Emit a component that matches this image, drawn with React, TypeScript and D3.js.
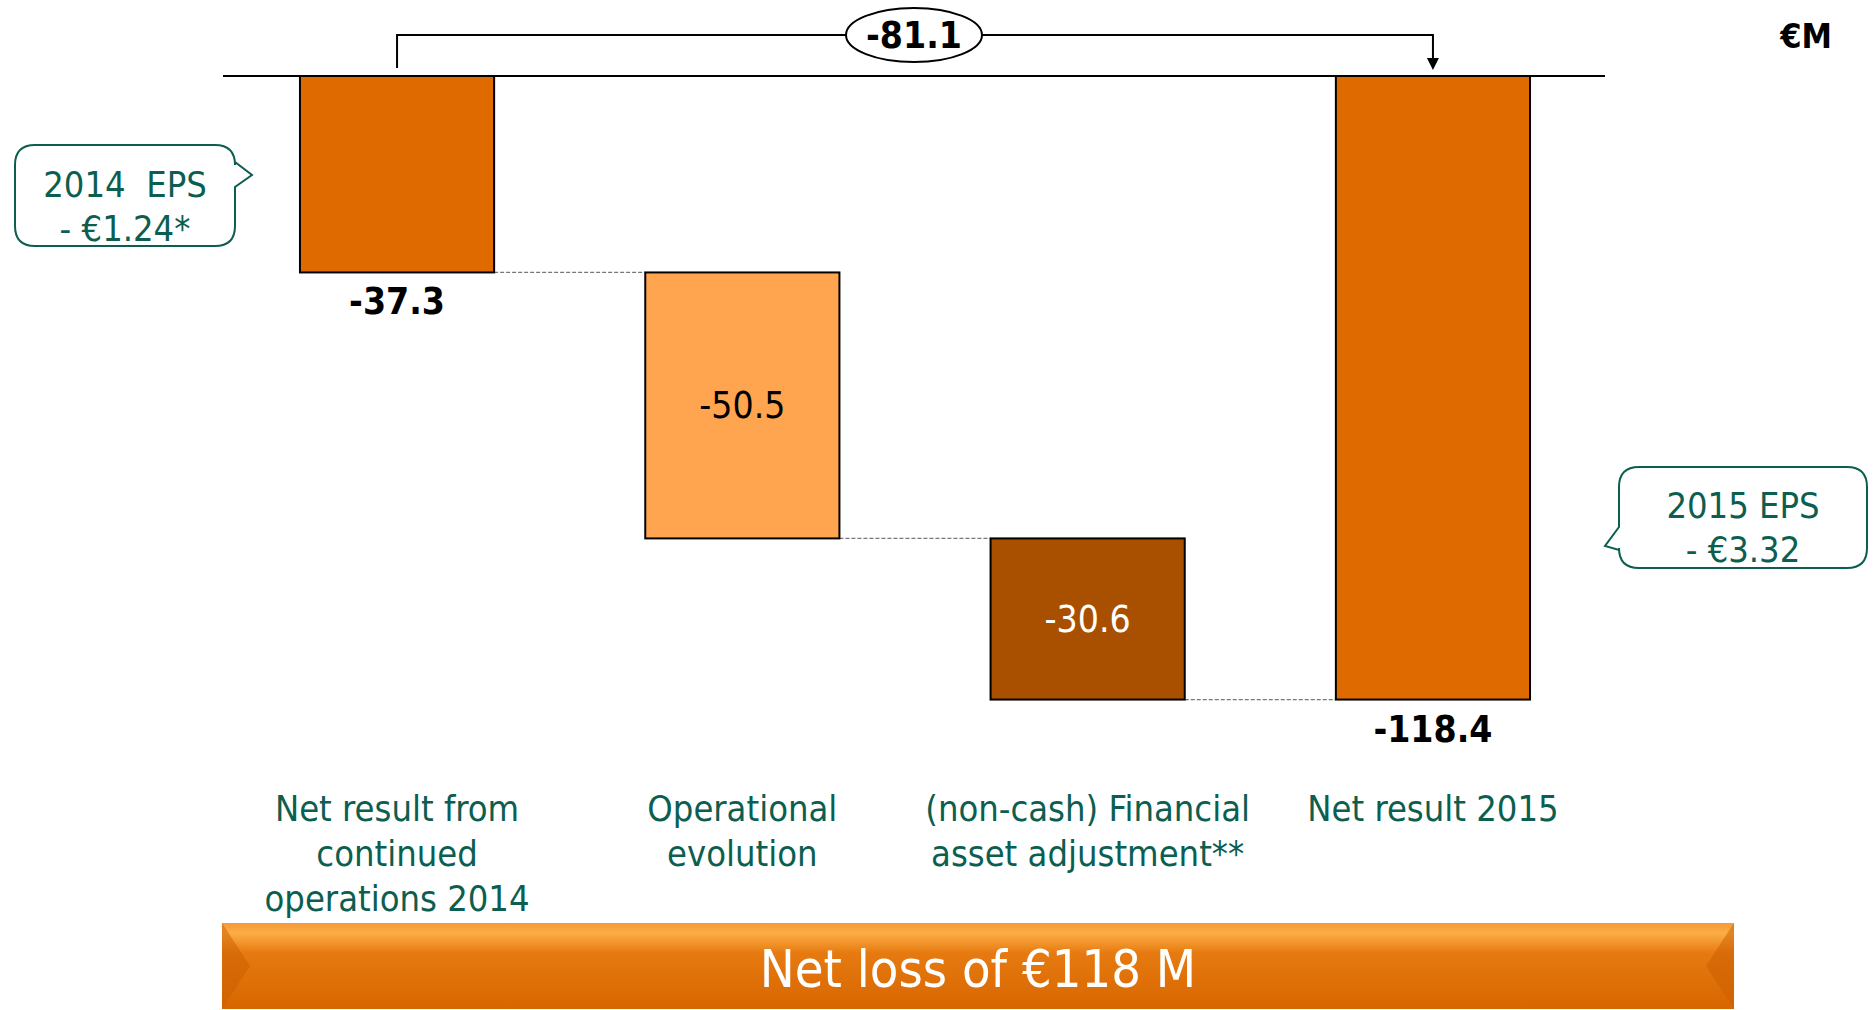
import * as d3 from 'd3';

// data
const steps = ['start', 'ops', 'fin', 'end'];
const stepLabels = [
	['Net result from', 'continued', 'operations 2014'],
	['Operational', 'evolution'],
	['(non-cash) Financial', 'asset adjustment**'],
	['Net result 2015'],
];
const stepValues = [-37.3, -50.5, -30.6, -118.4];
const stepKinds = ['total', 'delta', 'delta', 'total'];
const stepColors = ['#de6a00', '#ffa550', '#a85000', '#de6a00'];
const epsLeft = ['2014  EPS', '- €1.24*'];
const epsRight = ['2015 EPS', '- €3.32'];
const bannerText = 'Net loss of €118 M';

const FONT = "'DejaVu Sans Condensed', 'DejaVu Sans', sans-serif";
const GREEN = '#0b5e50';

function calloutPath(x0: number, y0: number, x1: number, y1: number, r: number, side: 'left' | 'right', a: number, tip: [number, number], b: number) {
	// rounded box with a small pointer on one side
	if (side === 'right') {
		return `M${x0 + r},${y0} H${x1 - r} Q${x1},${y0} ${x1},${y0 + r} V${a} L${tip[0]},${tip[1]} L${x1},${b} V${y1 - r} Q${x1},${y1} ${x1 - r},${y1} H${x0 + r} Q${x0},${y1} ${x0},${y1 - r} V${y0 + r} Q${x0},${y0} ${x0 + r},${y0} Z`;
	}
	return `M${x0 + r},${y0} H${x1 - r} Q${x1},${y0} ${x1},${y0 + r} V${y1 - r} Q${x1},${y1} ${x1 - r},${y1} H${x0 + r} Q${x0},${y1} ${x0},${y1 - r} V${b} L${tip[0]},${tip[1]} L${x0},${a} V${y0 + r} Q${x0},${y0} ${x0 + r},${y0} Z`;
}

export default function App() {
	const x = d3.scaleBand().domain(steps).range([224, 1606]).paddingInner(0.4377).paddingOuter(0.22);
	const y = d3.scaleLinear().domain([0, -120]).range([76, 708]);
	const bw = x.bandwidth();

	// running totals for the waterfall
	let run = 0;
	const bars = steps.map((s, i) => {
		const v = stepValues[i];
		let top: number, bottom: number;
		if (stepKinds[i] === 'total') {
			top = 0; bottom = v; run = v;
		} else {
			top = run; bottom = run + v; run = bottom;
		}
		return {s, v, top, bottom, color: stepColors[i], kind: stepKinds[i], i};
	});
	const change = stepValues[3] - stepValues[0];
	const cx = (s: string) => (x(s) as number) + bw / 2;
	const bridgeY = 35;

	return (
		<svg width={1873} height={1010} style={{position: 'absolute', left: 0, top: 0, fontFamily: FONT}}>
			<defs>
				<linearGradient id="banner" x1="0" y1="0" x2="0" y2="1">
					<stop offset="0%" stopColor="#f59a3a" />
					<stop offset="12%" stopColor="#fbad45" />
					<stop offset="35%" stopColor="#e67a10" />
					<stop offset="100%" stopColor="#d86600" />
				</linearGradient>
			</defs>

			{/* zero line */}
			<line x1={223} x2={1605} y1={y(0)} y2={y(0)} stroke="#000" strokeWidth={2} />

			{/* dashed connectors */}
			{bars.slice(0, -1).map((b, i) => (
				<line key={'c' + i} x1={(x(b.s) as number) + bw} x2={x(steps[i + 1]) as number}
					y1={y(b.bottom)} y2={y(b.bottom)} stroke="#777" strokeWidth={1.2} strokeDasharray="4 2" />
			))}

			{/* bars */}
			{bars.map((b) => (
				<rect key={b.s} x={x(b.s)} y={y(b.top)} width={bw} height={y(b.bottom) - y(b.top)}
					fill={b.color} stroke="#000" strokeWidth={2} />
			))}

			{/* value labels */}
			{bars.map((b) => b.kind === 'total' ? (
				<text key={'v' + b.s} x={cx(b.s)} y={y(b.bottom) + 42} textAnchor="middle" fontWeight="bold"
					fontSize={37} fill="#000">{b.v.toFixed(1)}</text>
			) : (
				<text key={'v' + b.s} x={cx(b.s)} y={(y(b.top) + y(b.bottom)) / 2 + 13} textAnchor="middle"
					fontSize={37} fill={b.i === 2 ? '#fff' : '#000'}>{b.v.toFixed(1)}</text>
			))}

			{/* bridge arrow */}
			<path d={`M${cx(steps[0])},${y(0) - 8} V${bridgeY} H${cx(steps[3])} V${y(0) - 16}`} fill="none" stroke="#000" strokeWidth={2} />
			<path d={`M${cx(steps[3]) - 6},${y(0) - 18} H${cx(steps[3]) + 6} L${cx(steps[3])},${y(0) - 6} Z`} fill="#000" />
			<ellipse cx={914} cy={bridgeY} rx={68} ry={27} fill="#fff" stroke="#000" strokeWidth={2} />
			<text x={914} y={bridgeY + 13} textAnchor="middle" fontWeight="bold" fontSize={37}>{change.toFixed(1)}</text>

			<text x={1806} y={48} textAnchor="middle" fontWeight="bold" fontSize={34}>€M</text>

			{/* category labels */}
			{stepLabels.map((lines, i) => (
				<text key={'l' + i} x={cx(steps[i])} textAnchor="middle" fontSize={36} fill={GREEN}>
					{lines.map((t, j) => <tspan key={j} x={cx(steps[i])} y={821 + j * 45}>{t}</tspan>)}
				</text>
			))}

			{/* EPS callouts */}
			<path d={calloutPath(15, 145, 235, 246, 20, 'right', 162, [252, 175], 187)} fill="#fff" stroke={GREEN} strokeWidth={2} />
			{epsLeft.map((t, j) => (
				<text key={'el' + j} x={125} y={197 + j * 44} textAnchor="middle" fontSize={36} fill={GREEN} style={{whiteSpace: 'pre'}}>{t}</text>
			))}
			<path d={calloutPath(1619, 467, 1867, 568, 20, 'left', 527, [1605, 546], 550)} fill="#fff" stroke={GREEN} strokeWidth={2} />
			{epsRight.map((t, j) => (
				<text key={'er' + j} x={1743} y={518 + j * 44} textAnchor="middle" fontSize={36} fill={GREEN}>{t}</text>
			))}

			{/* banner */}
			<rect x={222} y={923} width={1512} height={86} fill="url(#banner)" />
			<path d="M222,923 L250,966 L222,1009 Z" fill="#c95e00" opacity={0.5} />
			<path d="M1734,923 L1706,966 L1734,1009 Z" fill="#c95e00" opacity={0.5} />
			<text x={978} y={987} textAnchor="middle" fontSize={52} fill="#fff">{bannerText}</text>
		</svg>
	);
}
